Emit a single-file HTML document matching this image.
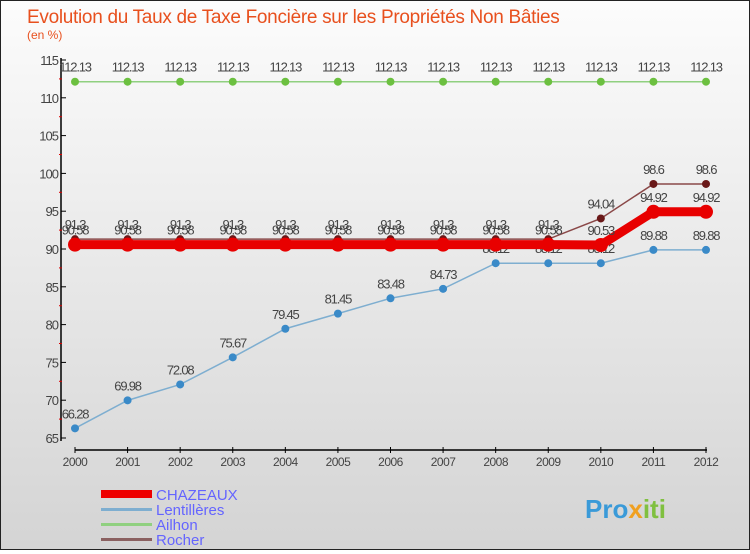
<!DOCTYPE html>
<html><head><meta charset="utf-8"><style>
html,body{margin:0;padding:0}
body{width:750px;height:550px;overflow:hidden;font-family:"Liberation Sans",sans-serif}
#wrap{position:relative;width:748px;height:548px;border:1px solid #222;background:linear-gradient(#fcfcfc,#d4d4d4)}
</style></head><body>
<div id="wrap">
<svg id="chart" width="748" height="548" font-family="Liberation Sans, sans-serif">
<text x="26" y="22" font-size="19" fill="#e8501e" letter-spacing="-0.3">Evolution du Taux de Taxe Foncière sur les Propriétés Non Bâties</text>
<text x="26" y="38" font-size="12" fill="#e8501e">(en %)</text>
<g id="axes"></g><g id="series"></g>
<g>
<rect x="100" y="489" width="51" height="8" fill="#e00"/>
<text x="155" y="499" font-size="15" fill="#6464ff">CHAZEAUX</text>
<rect x="100" y="507" width="51" height="3" fill="#7eaed0"/>
<text x="155" y="514" font-size="15" fill="#6464ff">Lentillères</text>
<rect x="100" y="522" width="51" height="3" fill="#90d080"/>
<text x="155" y="529" font-size="15" fill="#6464ff">Ailhon</text>
<rect x="100" y="537" width="51" height="3" fill="#8a6060"/>
<text x="155" y="544" font-size="15" fill="#6464ff">Rocher</text>
</g>
<text x="584" y="517" font-size="26" font-weight="bold" fill="#3a9ad8">Pro<tspan fill="#f0a020">x</tspan><tspan fill="#80c040">iti</tspan></text>
</svg>
</div>
<script>
const years=[2000,2001,2002,2003,2004,2005,2006,2007,2008,2009,2010,2011,2012];
const yTicks=[65,70,75,80,85,90,95,100,105,110,115];
const chazeaux=[90.58,90.58,90.58,90.58,90.58,90.58,90.58,90.58,90.58,90.58,90.53,94.92,94.92];
const lentilleres=[66.28,69.98,72.08,75.67,79.45,81.45,83.48,84.73,88.12,88.12,88.12,89.88,89.88];
const ailhon=[112.13,112.13,112.13,112.13,112.13,112.13,112.13,112.13,112.13,112.13,112.13,112.13,112.13];
const rocher=[91.3,91.3,91.3,91.3,91.3,91.3,91.3,91.3,91.3,91.3,94.04,98.6,98.6];
const NS="http://www.w3.org/2000/svg";
const x=i=>74+i*(705-74)/(years.length-1);
const y=v=>59+(115-v)*(437-59)/50;
function mk(t,a,p){const e=document.createElementNS(NS,t);for(const k in a)e.setAttribute(k,a[k]);p.appendChild(e);return e;}
const ax=document.getElementById('axes');
const yl=mk('line',{x1:60,y1:57,x2:60,y2:440,stroke:'#000','stroke-width':1.5},ax);


yTicks.forEach(v=>{
 mk('line',{x1:60,x2:65,y1:y(v),y2:y(v),stroke:'#000'},ax);
 if(v<115) mk('line',{x1:58,x2:61,y1:y(v+2.5),y2:y(v+2.5),stroke:'#d00'},ax);
 const t=mk('text',{x:57,y:y(v)+5,'font-size':13,'text-anchor':'end',fill:'#444','letter-spacing':'-1'},ax);
 t.textContent=v;
 
 
});
const xl=mk('line',{x1:74,y1:449,x2:706,y2:449,stroke:'#000','stroke-width':1.5},ax);


years.forEach((yr,i)=>{
 mk('line',{x1:x(i),x2:x(i),y1:446,y2:452,stroke:'#000'},ax);
 const t=mk('text',{x:x(i),y:465,'font-size':12,'text-anchor':'middle',fill:'#444','letter-spacing':'-0.5'},ax);
 t.textContent=yr;
 
 
});
const sg=document.getElementById('series');
function series(name,data,color,dot,w,r,lblOff){
 const g=mk('g',{},sg);
 
 
 const l=mk('polyline',{points:data.map((v,i)=>x(i)+','+y(v)).join(' '),fill:'none',stroke:color,'stroke-width':w},g);
 
 
 data.forEach((v,i)=>{
  const c=mk('circle',{cx:x(i),cy:y(v),r:r,fill:dot},g);
  
  
  const t=mk('text',{x:x(i),y:y(v)-lblOff,'font-size':13,'text-anchor':'middle',fill:'#444','letter-spacing':'-1.2'},g);
  t.textContent=v;
  
  
 });
}
series('ailhon',ailhon,'#90d080','#6cc040',1.5,4,10);
series('lentilleres',lentilleres,'#7eaed0','#3a8ac8',1.5,4,10);
series('rocher',rocher,'#8a4848','#6a1818',1.5,4,10);
series('chazeaux',chazeaux,'#e80000','#e80000',9,7,10);
</script>
</body></html>
